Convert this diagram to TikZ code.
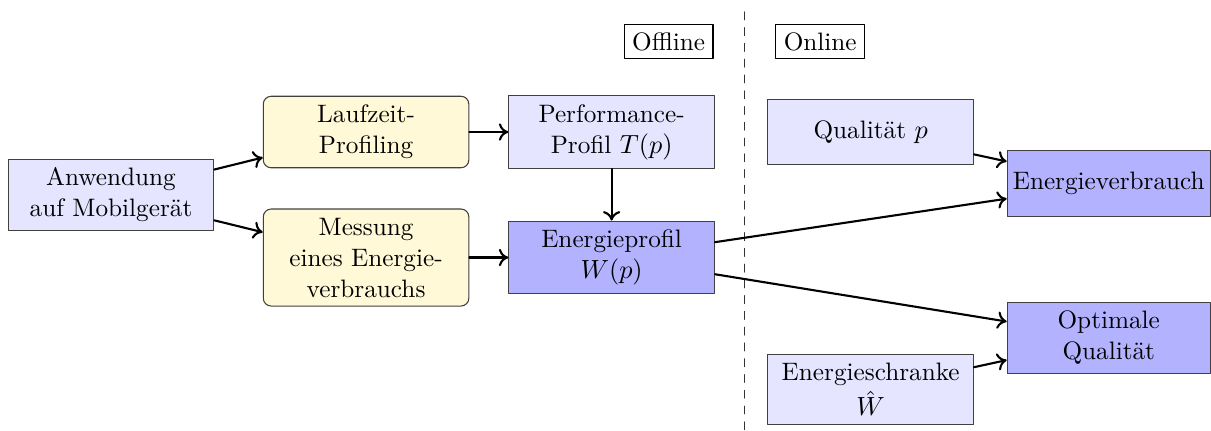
\documentclass[tikz,border=0pt]{standalone}
\usetikzlibrary{arrows.meta}
\definecolor{hellgelb}{RGB}{255,249,215}
\begin{document}
\begin{tikzpicture}[
  line cap=round,
  line join=round,
  font=\fontsize{9.6pt}{11.8pt}\selectfont,
  box/.style={draw=black!75, fill=blue!10, align=center,
    inner xsep=2pt, minimum width=2.75cm, minimum height=0.88cm},
  stufe/.style={box, fill=hellgelb, rounded corners=3pt},
  ergebnis/.style={box, fill=blue!30},
  phase/.style={draw, inner sep=3pt},
  pfeil/.style={-{To[length=3.6pt,width=6.6pt]}, thick}
]
  \def\B{16.2}
  \def\H{5.753}
  \useasboundingbox (0,0) rectangle (\B,\H);

  % Trennlinie
  \coordinate (T1) at (9.955,5.593);
  \coordinate (T2) at (9.955,0);
  \draw[dashed, black!80] (T1) -- (T2);

  \node[phase] (offline) at (8.945,5.198) {Offline};
  \node[phase] (online)  at (10.972,5.198) {Online};

  % Offline
  \node[box] (anw) at (1.485,3.144) {Anwendung\\auf Mobilgerät};
  \node[stufe] (lauf) at (4.897,3.987) {Laufzeit-\\Profiling};
  \node[stufe] (mess) at (4.897,2.308)
    {Messung\\eines Energie-\\verbrauchs};
  \node[box] (perf) at (8.182,3.987) {Performance-\\Profil $T(p)$};
  \node[ergebnis] (eprof) at (8.182,2.308) {Energieprofil\\$W(p)$};

  % Online
  \node[box] (qual) at (11.647,3.987) {Qualität $p$};
  \node[box] (schranke) at (11.647,0.542) {Energieschranke\\[1.5pt]$\hat{W}$};
  \node[ergebnis, minimum width=2.716cm] (verbrauch) at (14.832,3.298)
    {Energieverbrauch};
  \node[ergebnis, minimum width=2.716cm] (optimal) at (14.832,1.231)
    {Optimale\\Qualität};

  % Pfeile
  \draw[pfeil] (anw) -- (lauf);
  \draw[pfeil] (anw) -- (mess);
  \draw[pfeil] (lauf) -- (perf);
  \draw[pfeil] (mess) -- (eprof);
  \draw[pfeil] (perf) -- (eprof);
  \draw[pfeil] (eprof) -- (verbrauch);
  \draw[pfeil] (eprof) -- (optimal);
  \draw[pfeil] (qual) -- (verbrauch);
  \draw[pfeil] (schranke) -- (optimal);
\end{tikzpicture}
\end{document}
